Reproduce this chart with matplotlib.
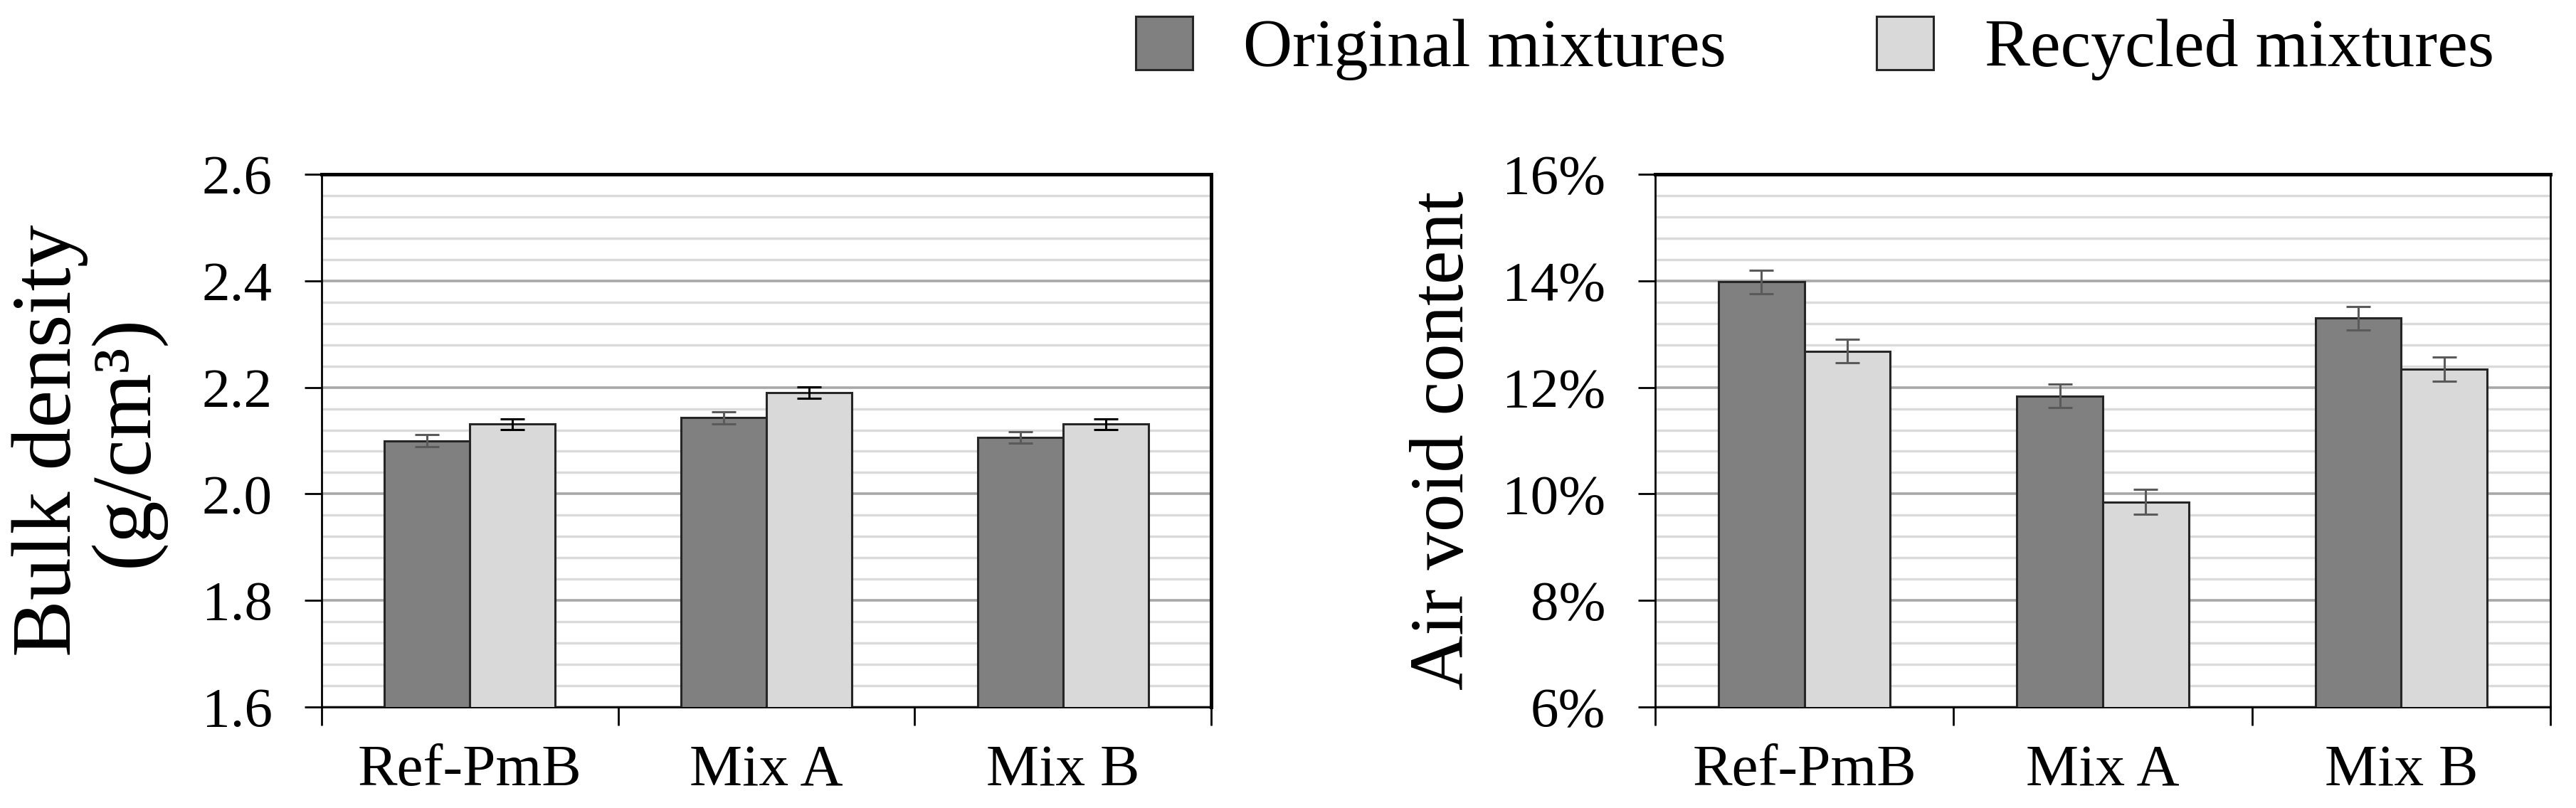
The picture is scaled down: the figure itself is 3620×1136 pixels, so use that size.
import matplotlib
matplotlib.use("Agg")
import matplotlib.pyplot as plt
from matplotlib.ticker import MultipleLocator, FuncFormatter

plt.rcParams['font.family'] = ['Liberation Serif', 'DejaVu Serif']

# Data
mixes = ["Ref-PmB", "Mix A", "Mix B"]
series_names = ["Original mixtures", "Recycled mixtures"]

density_original = [2.100, 2.143, 2.106]
density_recycled = [2.131, 2.190, 2.131]
density_original_err = [0.011, 0.011, 0.011]
density_recycled_err = [0.010, 0.011, 0.010]

voids_original = [13.98, 11.84, 13.30]
voids_recycled = [12.68, 9.85, 12.34]
voids_original_err = [0.22, 0.22, 0.22]
voids_recycled_err = [0.22, 0.23, 0.23]

col_orig = "#808080"
col_rec = "#d9d9d9"
edge = "#262626"

fig = plt.figure(figsize=(36.2, 11.36), dpi=100)
ax1 = fig.add_axes([452 / 3620, 142 / 1136, 1250 / 3620, 749 / 1136])
ax2 = fig.add_axes([2326 / 3620, 142 / 1136, 1258 / 3620, 749 / 1136])

w = 0.288
x = list(range(len(mixes)))


def draw(ax, orig, rec, orig_err, rec_err, err_cols, ylim, major, minor):
    xo = [i - w / 2 for i in x]
    xr = [i + w / 2 for i in x]
    ax.bar(xo, orig, width=w, color=col_orig, edgecolor=edge,
           linewidth=2.2, label=series_names[0], zorder=3)
    ax.bar(xr, rec, width=w, color=col_rec, edgecolor=edge,
           linewidth=2.2, label=series_names[1], zorder=3)
    ax.errorbar(xo, orig, yerr=orig_err, fmt="none", ecolor=err_cols[0],
                elinewidth=2.2, capsize=12, capthick=2.2, zorder=4)
    ax.errorbar(xr, rec, yerr=rec_err, fmt="none", ecolor=err_cols[1],
                elinewidth=2.2, capsize=12, capthick=2.2, zorder=4)

    ax.set_xlim(-0.5, len(mixes) - 0.5)
    ax.set_ylim(*ylim)
    ax.yaxis.set_major_locator(MultipleLocator(major))
    ax.yaxis.set_minor_locator(MultipleLocator(minor))
    ax.grid(axis="y", which="minor", color="#dadada", linewidth=2.4, zorder=0)
    ax.grid(axis="y", which="major", color="#a8a8a8", linewidth=2.6, zorder=1)
    ax.set_axisbelow(True)

    ax.set_xticks(x)
    ax.set_xticklabels(mixes)
    ax.set_xticks([i - 0.5 for i in range(len(mixes) + 1)], minor=True)
    ax.tick_params(axis="x", which="major", length=0, pad=38, labelsize=60)
    ax.tick_params(axis="x", which="minor", length=19, width=2, direction="out")
    ax.tick_params(axis="y", which="major", length=17, width=2, direction="out",
                   pad=33, labelsize=57)
    ax.tick_params(axis="y", which="minor", length=0)

    for s in ["left", "bottom", "right"]:
        ax.spines[s].set_linewidth(2)
        ax.spines[s].set_color("black")
    ax.spines["top"].set_linewidth(3.6)


draw(ax1, density_original, density_recycled, density_original_err,
     density_recycled_err, ["#5a5a5a", "black"], (1.6, 2.6), 0.2, 0.04)
draw(ax2, voids_original, voids_recycled, voids_original_err,
     voids_recycled_err, ["#5a5a5a", "#5a5a5a"], (6, 16), 2, 0.4)
ax1.spines["right"].set_linewidth(3.6)

ax1.yaxis.set_major_formatter(FuncFormatter(lambda v, p: f"{v:.1f}"))
ax2.yaxis.set_major_formatter(FuncFormatter(lambda v, p: f"{v:.0f}%"))

ax1.set_ylabel("Bulk density\n(g/cm³)", fontsize=86, va="center",
               multialignment="center", linespacing=1.0)
ax1.yaxis.set_label_coords(-0.262, 0.5)
ax2.set_ylabel("Air void content", fontsize=77, va="center")
ax2.yaxis.set_label_coords(-0.235, 0.5)

handles, labels = ax1.get_legend_handles_labels()
fig.legend(handles, labels, loc="center left", bbox_to_anchor=(1596 / 3620, 1 - 68 / 1136),
           ncol=2, frameon=False, fontsize=69, borderpad=0, borderaxespad=0,
           handlelength=0.83, handleheight=0.83, handletextpad=0.75,
           columnspacing=2.2)

fig.savefig("out.png", dpi=100)
